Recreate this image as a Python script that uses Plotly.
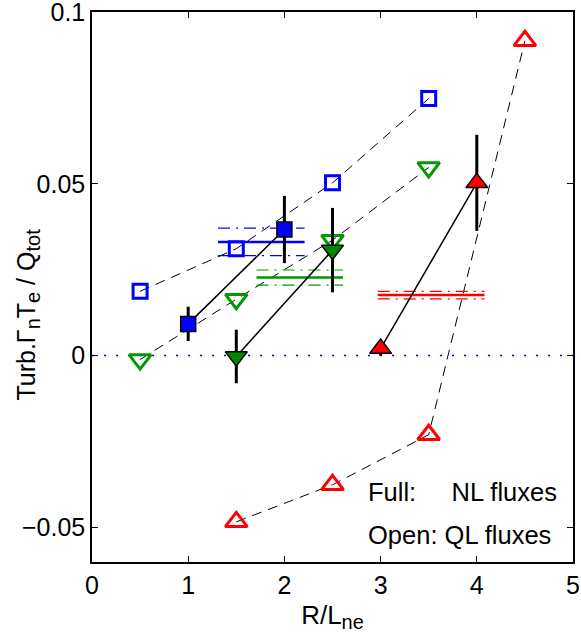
import plotly.graph_objects as go

# ---- data ----
# Quasilinear (open markers)
ql_x = [0.5, 1.5, 2.5, 3.5]
ql_squares = [0.0187, 0.0311, 0.0503, 0.0749]
ql_tri_down = [-0.0012, 0.0164, 0.0336, 0.0548]
ql_x_up = [1.5, 2.5, 3.5, 4.5]
ql_tri_up = [-0.0485, -0.0377, -0.0231, 0.0917]

# Nonlinear (full markers) with error bars
nl_sq_x = [1.0, 2.0]
nl_sq_y = [0.0092, 0.0367]
nl_sq_err = [0.005, 0.0098]
nl_dn_x = [1.5, 2.5]
nl_dn_y = [-0.0003, 0.0307]
nl_dn_err = [0.0078, 0.0123]
nl_up_x = [3.0, 4.0]
nl_up_y = [0.0020, 0.0503]
nl_up_err = [0.0020, 0.0140]

# Experimental bands (mean +/- std)
band_colors = ["#0000FF", "#009900", "#FF0000"]
band_y = [0.0331, 0.0227, 0.0176]
band_dy = [0.0040, 0.0022, 0.0011]
band_x0 = [1.31, 1.71, 2.97]
band_x1 = [2.21, 2.61, 4.08]

x_ticks = [0, 1, 2, 3, 4, 5]
y_ticks = [-0.05, 0, 0.05, 0.1]
y_ticktext = ["\u22120.05", "0", "0.05", "0.1"]

BLUE = "#0000FF"
GREEN = "#009900"
RED = "#FF0000"
FONT = "Liberation Sans, Arial, sans-serif"

fig = go.Figure()

# zero dotted line
fig.add_trace(go.Scatter(x=[0, 5], y=[0, 0], mode="lines",
                         line=dict(color=BLUE, width=1.5, dash="2px,10px"),
                         showlegend=False, hoverinfo="skip"))

# dashed connecting lines for QL points
for xs, ys in [(ql_x, ql_squares), (ql_x, ql_tri_down), (ql_x_up, ql_tri_up)]:
    fig.add_trace(go.Scatter(x=xs, y=ys, mode="lines",
                             line=dict(color="black", width=1, dash="10px,7px"),
                             showlegend=False, hoverinfo="skip"))

# bands
for c, yv, dy, x0, x1 in zip(band_colors, band_y, band_dy, band_x0, band_x1):
    fig.add_trace(go.Scatter(x=[x0, x1], y=[yv, yv], mode="lines",
                             line=dict(color=c, width=2.5),
                             showlegend=False, hoverinfo="skip"))
    for s in (-1, 1):
        fig.add_trace(go.Scatter(x=[x0, x1], y=[yv + s * dy, yv + s * dy], mode="lines",
                                 line=dict(color=c, width=1.2, dash="12px,6px,2px,6px"),
                                 showlegend=False, hoverinfo="skip"))

# solid black lines joining NL points
for xs, ys in [(nl_sq_x, nl_sq_y), (nl_dn_x, nl_dn_y), (nl_up_x, nl_up_y)]:
    fig.add_trace(go.Scatter(x=xs, y=ys, mode="lines",
                             line=dict(color="black", width=1.5),
                             showlegend=False, hoverinfo="skip"))

# QL open markers
fig.add_trace(go.Scatter(x=ql_x, y=ql_squares, mode="markers",
                         marker=dict(symbol="square-open", size=14, color=BLUE,
                                     line=dict(width=3, color=BLUE)),
                         showlegend=False))
fig.add_trace(go.Scatter(x=ql_x, y=ql_tri_down, mode="markers",
                         marker=dict(symbol="triangle-down-open", size=19, color=GREEN,
                                     line=dict(width=3, color=GREEN)),
                         showlegend=False))
fig.add_trace(go.Scatter(x=ql_x_up, y=ql_tri_up, mode="markers",
                         marker=dict(symbol="triangle-up-open", size=19, color=RED,
                                     line=dict(width=3, color=RED)),
                         showlegend=False))

# NL full markers with error bars
for xs, ys, es, sym, col, sz in [
    (nl_sq_x, nl_sq_y, nl_sq_err, "square", BLUE, 15),
    (nl_dn_x, nl_dn_y, nl_dn_err, "triangle-down", "#008800", 19),
    (nl_up_x, nl_up_y, nl_up_err, "triangle-up", RED, 19),
]:
    fig.add_trace(go.Scatter(x=xs, y=ys, mode="markers",
                             error_y=dict(type="data", array=es, visible=True,
                                          color="black", thickness=3, width=0),
                             marker=dict(symbol=sym, size=sz, color=col,
                                         line=dict(width=1.5, color="black")),
                             showlegend=False))

fig.add_annotation(x=2.85, y=-0.0399, xref="x", yref="y", xanchor="left", yanchor="middle",
                   text="Full:\u00a0\u00a0\u00a0\u00a0 NL fluxes", showarrow=False,
                   font=dict(family=FONT, size=25.5, color="black"))
fig.add_annotation(x=2.85, y=-0.0524, xref="x", yref="y", xanchor="left", yanchor="middle",
                   text="Open: QL fluxes", showarrow=False,
                   font=dict(family=FONT, size=25.5, color="black"))

# y-axis label as rotated annotation
SUB = '<sub><span style="font-size:20px">%s</span></sub>'
ylabel = "Turb.\u0393" + SUB % "n" + "T" + SUB % "e" + " / Q" + SUB % "tot"
fig.add_annotation(x=-0.135, y=0.45, xref="paper", yref="paper",
                   xanchor="center", yanchor="middle", textangle=-90,
                   text=ylabel, showarrow=False,
                   font=dict(family=FONT, size=25, color="black"))

axis_common = dict(showline=True, linecolor="black", linewidth=1.5, mirror="ticks",
                   ticks="inside", ticklen=6, tickcolor="black", tickwidth=1,
                   showgrid=False, zeroline=False, ticklabeloverflow="allow",
                   tickfont=dict(family=FONT, size=25, color="black"))

fig.update_xaxes(range=[0, 5], tickvals=x_ticks,
                 title=dict(text="R/L" + SUB % "ne", font=dict(family=FONT, size=26, color="black"),
                            standoff=8),
                 **axis_common)
fig.update_yaxes(range=[-0.0602, 0.1001], tickvals=y_ticks, ticktext=y_ticktext,
                 **axis_common)

fig.update_layout(width=581, height=639,
                  margin=dict(l=92, r=8, t=12, b=77, autoexpand=False),
                  paper_bgcolor="white", plot_bgcolor="white",
                  font=dict(family=FONT, color="black"))

fig.write_html("out.html", config={"displayModeBar": False},
               post_script="document.body.style.margin='0px';")
